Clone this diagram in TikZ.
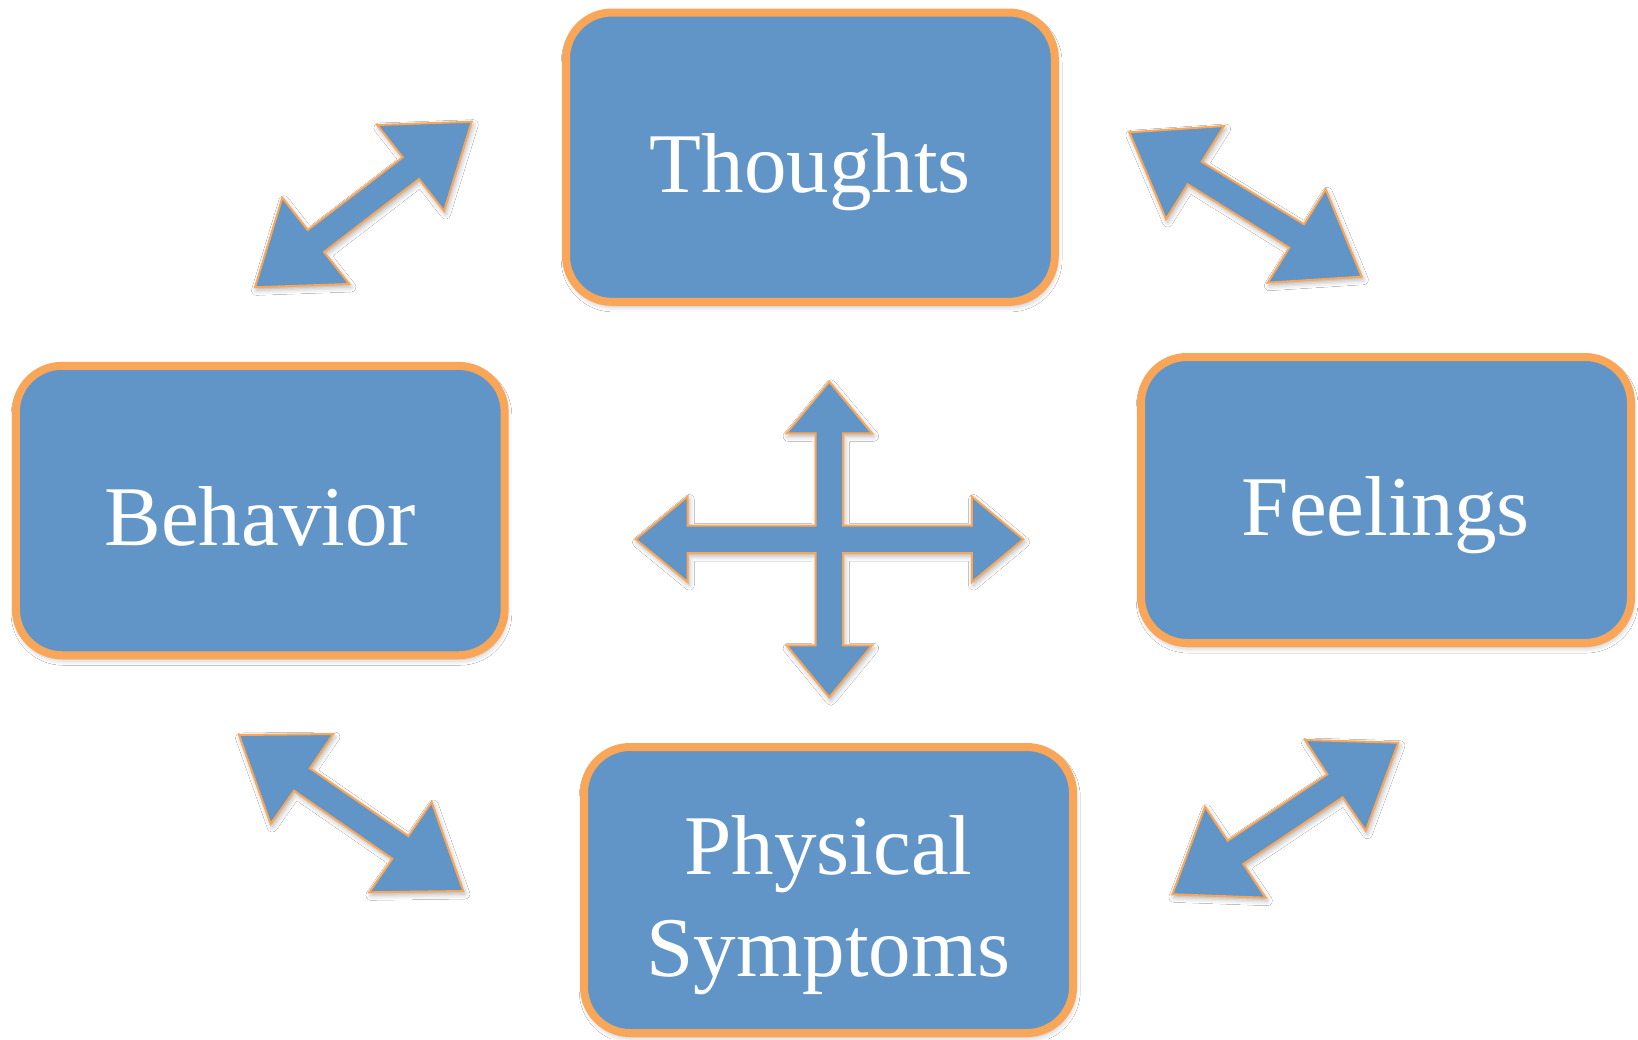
\documentclass[tikz,border=0pt]{standalone}
\usepackage{fontspec}
\setmainfont{Liberation Serif}
\usetikzlibrary{shadows.blur}
\definecolor{boxblue}{HTML}{6195C7}
\definecolor{edgeorange}{HTML}{F9A658}
\tikzset{
  cbtbox/.style={draw=edgeorange, line width=4pt, fill=boxblue, rounded corners=23pt,
    text=white, font=\fontsize{42.5pt}{51.35pt}\selectfont, align=center,
    inner sep=0pt, text height=35pt, text depth=0pt,
    blur shadow={shadow xshift=0.6pt, shadow yshift=-2pt, shadow blur radius=3pt, shadow opacity=30}},
  blockarrow/.style={draw=edgeorange, line width=1pt, fill=boxblue, line join=miter,
    blur shadow={shadow xshift=0.8pt, shadow yshift=-1.5pt, shadow blur radius=2.5pt, shadow opacity=30}}
}
\begin{document}
\begin{tikzpicture}[x=0.5pt, y=-0.5pt]
\useasboundingbox[fill=white] (0,0) rectangle (1638,1039);

% boxes
\node[cbtbox, minimum width=244.4pt, minimum height=144.7pt, text height=35.5pt] (thoughts) at (810.4,157.2) {Thoughts};
\node[cbtbox, minimum width=244.4pt, minimum height=144.7pt] (behavior) at (260.25,510.55) {Behavior};
\node[cbtbox, minimum width=245pt, minimum height=143pt] (feelings) at (1386,500) {Feelings};
\node[cbtbox, minimum width=244.5pt, minimum height=143pt, text height=86.7pt, text depth=0pt] (physical) at (828.5,890) {Physical\\Symptoms};

% diagonal double arrows
\draw[blockarrow] (471.7,121.7) -- (444,211) -- (419,179) -- (324,252) -- (349.3,284) -- (255,287.3)
  -- (282.3,197.7) -- (307.7,230) -- (402.7,157.3) -- (377.3,125) -- cycle;
\draw[blockarrow] (1129.3,132.3) -- (1224,126) -- (1201.7,161.7) -- (1304,224.3) -- (1325.7,189.3)
  -- (1361.7,276.7) -- (1267.7,282.7) -- (1289.3,247.7) -- (1187.7,184.3) -- (1166,219) -- cycle;
\draw[blockarrow] (239,735) -- (333.3,734) -- (310,768.3) -- (408.3,836) -- (431.7,802)
  -- (463.3,891) -- (369.3,892.3) -- (392.3,858.7) -- (294,790.7) -- (270.7,824) -- cycle;
\draw[blockarrow] (1398.3,742.7) -- (1365.7,830.7) -- (1342.7,797.3) -- (1243.3,864) -- (1265.7,897.7)
  -- (1172.3,894.3) -- (1205,806.7) -- (1227.7,840.7) -- (1327.3,774.3) -- (1305,740) -- cycle;

% central four-way arrow
\draw[blockarrow] (829.3,381.7) -- (872.1,433.3) -- (843.1,433.3) -- (843.1,525.5) -- (971.9,525.5)
  -- (971.9,496.5) -- (1023.3,539.3) -- (971.9,582.1) -- (971.9,553.1) -- (843.1,553.1)
  -- (843.1,645.3) -- (872.1,645.3) -- (829.3,697.3) -- (786.5,645.3) -- (815.5,645.3)
  -- (815.5,553.1) -- (687.7,553.1) -- (687.7,582.1) -- (635.7,539.3) -- (687.7,496.5)
  -- (687.7,525.5) -- (815.5,525.5) -- (815.5,433.3) -- (786.5,433.3) -- cycle;
\end{tikzpicture}
\end{document}
